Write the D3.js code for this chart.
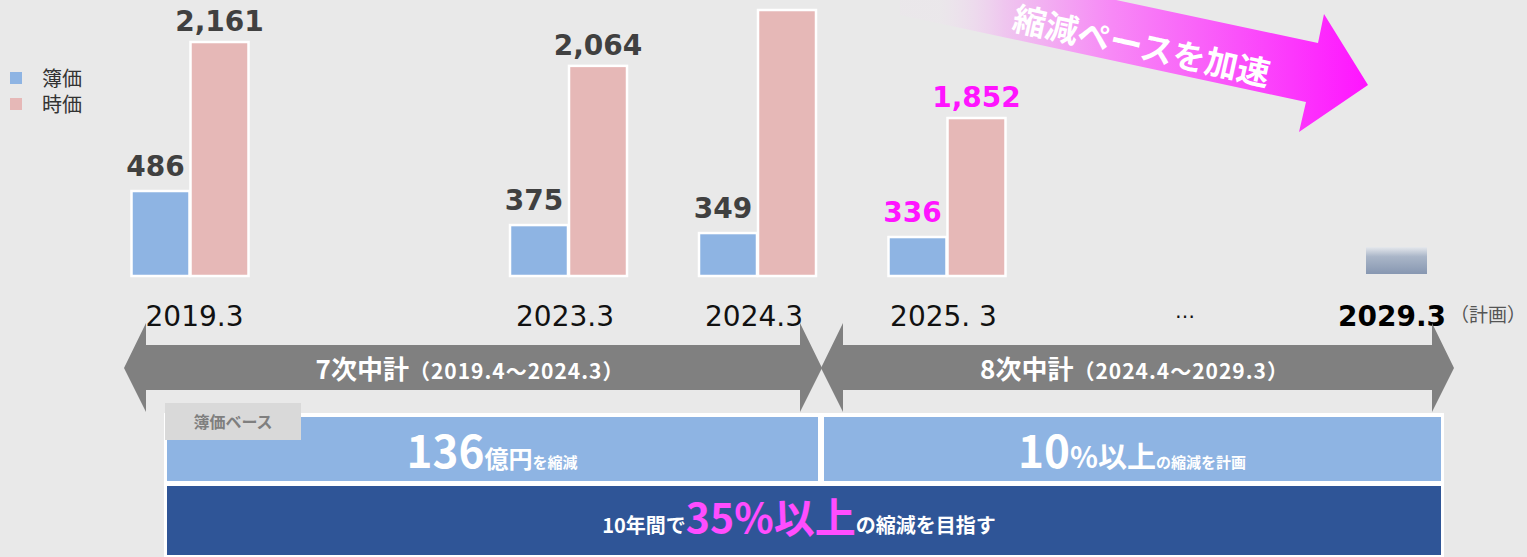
<!DOCTYPE html>
<html>
<head>
<meta charset="utf-8">
<script src="https://cdn.jsdelivr.net/npm/d3@7"></script>
<style>
  html, body { margin: 0; padding: 0; background: #e9e9e9; }
  svg { display: block; }
</style>
</head>
<body>
<div id="chart"></div>
<script>
// chart values
var categories = ["2019.3", "2023.3", "2024.3", "2025. 3", "…", "2029.3"];
var barCategories = ["2019.3", "2023.3", "2024.3", "2025. 3"];
var bookValues = [486, 375, 349, 336];          // 簿価
var marketValues = [2161, 2064, 2291, 1852];    // 時価
var bookLabels = ["486", "375", "349", "336"];
var marketLabels = ["2,161", "2,064", "", "1,852"];
var highlight = [false, false, false, true];
var planCategory = "2029.3";
var planBookValue = 303;
var legendNames = ["簿価", "時価"];

function drawChart() {
  var w = 1527;
  var h = 557;
  var baseY = 276;
  var barW = 58;

  var svg = d3.select("#chart").append("svg")
    .attr("width", w)
    .attr("height", h);

  svg.append("rect").attr("width", w).attr("height", h).attr("fill", "#e9e9e9");

  var defs = svg.append("defs");
  var pg = defs.append("linearGradient").attr("id", "pinkGrad")
    .attr("gradientUnits", "userSpaceOnUse")
    .attr("x1", 940).attr("y1", 0).attr("x2", 1368).attr("y2", 0);
  pg.append("stop").attr("offset", "0%").attr("stop-color", "#f0e0f0").attr("stop-opacity", 0.2);
  pg.append("stop").attr("offset", "15%").attr("stop-color", "#efc6ef");
  pg.append("stop").attr("offset", "40%").attr("stop-color", "#f789f6");
  pg.append("stop").attr("offset", "70%").attr("stop-color", "#fa50fa");
  pg.append("stop").attr("offset", "100%").attr("stop-color", "#ff14ff");

  var planGrad = defs.append("linearGradient").attr("id", "planGrad")
    .attr("x1", 0).attr("y1", 0).attr("x2", 0).attr("y2", 1);
  planGrad.append("stop").attr("offset", "0%").attr("stop-color", "#e4e7ec");
  planGrad.append("stop").attr("offset", "35%").attr("stop-color", "#aab6c8");
  planGrad.append("stop").attr("offset", "100%").attr("stop-color", "#8797b1");

  // x position of every category
  var x = d3.scaleOrdinal()
    .domain(categories)
    .range([189.5, 568, 757, 946.5, 1188, 1396]);

  // the two series use separate, non-zero based scales
  var yBook = d3.scaleLinear().domain([209, 486]).range([baseY, 191]);
  var yMarket = d3.scaleLinear().domain([1210, 2161]).range([baseY, 42]);

  // pink "accelerate" arrow
  svg.append("path")
    .attr("d", "M900,-46 L1318,43 L1324,14 L1368,85 L1299,132 L1306,102 L900,15 Z")
    .attr("fill", "url(#pinkGrad)");
  svg.append("text")
    .attr("transform", "translate(1139,58) rotate(12.5)")
    .attr("text-anchor", "middle")
    .attr("font-family", "Noto Sans CJK JP")
    .attr("font-weight", "bold")
    .attr("font-size", 33)
    .attr("fill", "#ffffff")
    .text("縮減ペースを加速");

  // legend
  var legendColors = ["#8eb4e3", "#e6b8b7"];
  var lg = svg.append("g");
  lg.selectAll("rect").data(legendNames).enter().append("rect")
    .attr("x", 10).attr("y", function (d, i) { return 72 + i * 26; })
    .attr("width", 12).attr("height", 12)
    .attr("fill", function (d, i) { return legendColors[i]; });
  lg.selectAll("text").data(legendNames).enter().append("text")
    .attr("x", 42).attr("y", function (d, i) { return 86 + i * 26; })
    .attr("font-family", "Noto Sans CJK JP")
    .attr("font-size", 20)
    .attr("fill", "#333")
    .text(function (d) { return d; });

  // bars
  var bars = svg.append("g");
  bars.selectAll("rect.book").data(bookValues).enter().append("rect")
    .attr("class", "book")
    .attr("x", function (d, i) { return x(barCategories[i]) - barW; })
    .attr("y", function (d) { return yBook(d); })
    .attr("width", barW)
    .attr("height", function (d) { return baseY - yBook(d); })
    .attr("fill", "#8eb4e3")
    .attr("stroke", "#ffffff").attr("stroke-width", 2.5);
  bars.selectAll("rect.market").data(marketValues).enter().append("rect")
    .attr("class", "market")
    .attr("x", function (d, i) { return x(barCategories[i]) + 1; })
    .attr("y", function (d) { return yMarket(d); })
    .attr("width", barW)
    .attr("height", function (d) { return baseY - yMarket(d); })
    .attr("fill", "#e6b8b7")
    .attr("stroke", "#ffffff").attr("stroke-width", 2.5);

  // planned bar
  bars.append("rect")
    .attr("x", x(planCategory) - 30)
    .attr("y", yBook(planBookValue))
    .attr("width", 61)
    .attr("height", baseY - 2 - yBook(planBookValue))
    .attr("fill", "url(#planGrad)");

  // value labels
  var lab = svg.append("g")
    .attr("font-family", "DejaVu Sans")
    .attr("font-weight", "bold")
    .attr("font-size", 28)
    .attr("text-anchor", "middle");
  lab.selectAll("text.book").data(bookValues).enter().append("text")
    .attr("class", "book")
    .attr("x", function (d, i) { return x(barCategories[i]) - barW / 2 - 5; })
    .attr("y", function (d) { return yBook(d) - 15; })
    .attr("fill", function (d, i) { return highlight[i] ? "#ff14ff" : "#404040"; })
    .text(function (d, i) { return bookLabels[i]; });
  lab.selectAll("text.market").data(marketValues).enter().append("text")
    .attr("class", "market")
    .attr("x", function (d, i) { return x(barCategories[i]) + barW / 2 + 1; })
    .attr("y", function (d) { return yMarket(d) - 11; })
    .attr("fill", function (d, i) { return highlight[i] ? "#ff14ff" : "#404040"; })
    .text(function (d, i) { return marketLabels[i]; });

  // category axis labels
  var cat = svg.append("g")
    .attr("font-family", "DejaVu Sans")
    .attr("text-anchor", "middle");
  cat.selectAll("text").data(categories).enter().append("text")
    .attr("x", function (d) { return x(d) + (d === planCategory ? -4 : (d === "2019.3" ? 5 : -3)); })
    .attr("y", function (d) { return d === "…" ? 318 : 326; })
    .attr("font-weight", function (d) { return d === planCategory ? "bold" : "normal"; })
    .attr("font-size", function (d) { return d === "…" ? 20 : 28; })
    .attr("fill", function (d) { return d === planCategory ? "#000" : "#111"; })
    .text(function (d) { return d; });
  svg.append("text")
    .attr("x", 1450).attr("y", 322)
    .attr("font-family", "Noto Sans CJK JP")
    .attr("font-size", 19)
    .attr("fill", "#555")
    .text("（計画）");

  // plan period arrows
  function doubleArrow(x0, x1) {
    var t = 22;
    return "M" + x0 + ",368 L" + (x0 + t) + ",323 L" + (x0 + t) + ",345 L" + (x1 - t) + ",345 L" +
      (x1 - t) + ",323 L" + x1 + ",368 L" + (x1 - t) + ",412 L" + (x1 - t) + ",390 L" +
      (x0 + t) + ",390 L" + (x0 + t) + ",412 Z";
  }
  var periods = [
    { x0: 124, x1: 822, main: "7次中計", sub: "（2019.4～2024.3）" },
    { x0: 821, x1: 1454, main: "8次中計", sub: "（2024.4～2029.3）" }
  ];
  var pa = svg.append("g");
  pa.selectAll("path").data(periods).enter().append("path")
    .attr("d", function (d) { return doubleArrow(d.x0, d.x1); })
    .attr("fill", "#808080");
  var pt = pa.selectAll("text").data(periods).enter().append("text")
    .attr("x", function (d) { return (d.x0 + d.x1) / 2 - 3; })
    .attr("y", 379)
    .attr("text-anchor", "middle")
    .attr("font-family", "Noto Sans CJK JP")
    .attr("font-weight", "bold")
    .attr("fill", "#ffffff");
  pt.append("tspan").attr("font-size", 26).text(function (d) { return d.main; });
  pt.append("tspan").attr("font-size", 21).attr("letter-spacing", 1).text(function (d) { return d.sub; });

  // summary banners
  var bn = svg.append("g").attr("font-family", "Noto Sans CJK JP").attr("font-weight", "bold");
  bn.append("rect").attr("x", 164).attr("y", 413).attr("width", 1280).attr("height", 144).attr("fill", "#ffffff");
  bn.append("rect").attr("x", 167).attr("y", 417).attr("width", 651).attr("height", 64).attr("fill", "#8eb4e3");
  bn.append("rect").attr("x", 824).attr("y", 417).attr("width", 617).attr("height", 64).attr("fill", "#8eb4e3");
  bn.append("rect").attr("x", 167).attr("y", 486).attr("width", 1274).attr("height", 69).attr("fill", "#2f5597");

  bn.append("rect").attr("x", 165).attr("y", 403).attr("width", 136).attr("height", 37).attr("fill", "#d9d9d9");
  bn.append("text").attr("x", 233).attr("y", 428).attr("text-anchor", "middle")
    .attr("font-size", 16).attr("fill", "#7f7f7f").text("簿価ベース");

  var t1 = bn.append("text").attr("x", 492).attr("y", 468).attr("text-anchor", "middle").attr("fill", "#ffffff");
  t1.append("tspan").attr("font-size", 44).text("136");
  t1.append("tspan").attr("font-size", 24).text("億円");
  t1.append("tspan").attr("font-size", 15).text("を縮減");

  var t2 = bn.append("text").attr("x", 1132).attr("y", 468).attr("text-anchor", "middle").attr("fill", "#ffffff");
  t2.append("tspan").attr("font-size", 44).text("10");
  t2.append("tspan").attr("font-size", 29).text("%以上");
  t2.append("tspan").attr("font-size", 15).text("の縮減を計画");

  var t3 = bn.append("text").attr("x", 799).attr("y", 533).attr("text-anchor", "middle").attr("fill", "#ffffff");
  t3.append("tspan").attr("font-size", 20).text("10年間で");
  t3.append("tspan").attr("font-size", 41).attr("fill", "#ff4dff").text("35%以上");
  t3.append("tspan").attr("font-size", 20).text("の縮減を目指す");
}
window.onload = drawChart;
</script>
</body>
</html>
